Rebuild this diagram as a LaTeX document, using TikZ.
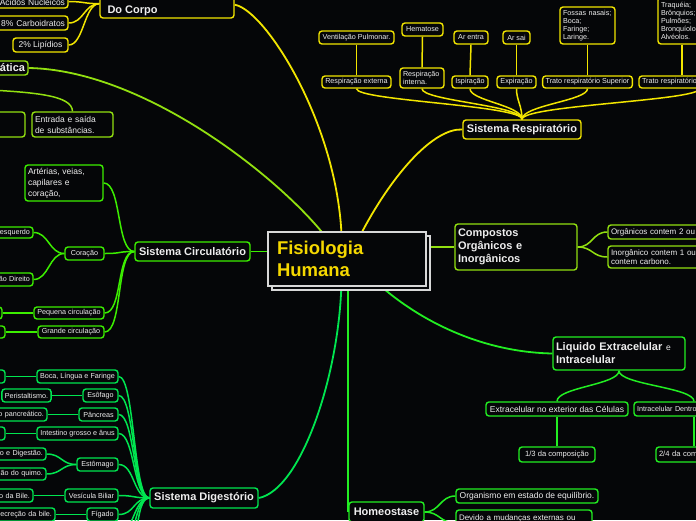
\documentclass[tikz,border=0pt]{standalone}
\usepackage{fontspec}
\setmainfont{Liberation Sans}
\usetikzlibrary{shadows,calc}
\definecolor{bg}{HTML}{050608}
\definecolor{cY}{HTML}{F2E500}
\definecolor{cL}{HTML}{92E010}
\definecolor{cC}{HTML}{3CEE00}
\definecolor{cG}{HTML}{22EE22}
\definecolor{cD}{HTML}{00E650}
\definecolor{cW}{HTML}{EEEEEE}
\definecolor{cT}{HTML}{F5D800}
\definecolor{cF}{HTML}{D8D8D8}
\pgfdeclarelayer{back}
\pgfsetlayers{back,main}
\newcommand\bx[7]{%
 \pgfmathsetmacro\bxw{(#4)-(#2)}\pgfmathsetmacro\bxh{(#5)-(#3)}%
 \pgfmathsetmacro\bxx{((#2)+(#4))/2}\pgfmathsetmacro\bxy{((#3)+(#5))/2}%
 \node[#1, minimum width=\bxw pt, minimum height=\bxh pt] (#6) at (\bxx,\bxy) {#7};}
\newcommand\bxt[8]{%
 \pgfmathsetmacro\bxw{(#4)-(#2)-6}\pgfmathsetmacro\bxh{(#5)-(#3)}%
 \pgfmathsetmacro\bxx{((#2)+(#4))/2}\pgfmathsetmacro\bxy{((#3)+(#5))/2}%
 \node[#1, text width=\bxw pt, minimum height=\bxh pt, align=#6] (#7) at (\bxx,\bxy) {#8};}
\begin{document}
\begin{tikzpicture}[x=1pt,y=-1pt,
 box/.style={draw, fill=bg, rounded corners=3pt, line width=1.4pt, text=cW, inner xsep=3pt, inner ysep=0.5pt},
 yb/.style={box, draw=cY}, lb/.style={box, draw=cL}, cb/.style={box, draw=cC},
 gb/.style={box, draw=cG}, db/.style={box, draw=cD},
 sm/.style={font=\fontsize{7.2}{8.5}\selectfont},
 md/.style={font=\fontsize{8.5}{11}\selectfont},
 bf/.style={font=\fontsize{11}{13}\selectfont\bfseries},
 fhb/.style={draw=cF, fill=bg, line width=1.3pt, text=cT, font=\fontsize{18.5}{22}\selectfont\bfseries,
   copy shadow={shadow xshift=4pt, shadow yshift=-4pt}},
 cy/.style={draw=cY, line width=1.5pt}, cyT/.style={draw=cY, line width=1.8pt},
 cl/.style={draw=cL, line width=1.5pt}, clT/.style={draw=cL, line width=1.8pt},
 cc/.style={draw=cC, line width=1.5pt}, ccT/.style={draw=cC, line width=1.8pt},
 cg/.style={draw=cG, line width=1.5pt}, cgT/.style={draw=cG, line width=1.8pt},
 cd/.style={draw=cD, line width=1.5pt}, cdT/.style={draw=cD, line width=1.8pt}]
\useasboundingbox (0,0) rectangle (696,520);
% central
\node[fhb, text width=140pt, inner xsep=9pt, inner ysep=0pt, minimum height=54pt, align=left] (fh) at (347,259) {Fisiologia\\Humana};
% yellow: composition
\bx{yb}{100}{-20}{234}{18}{docorpo}{}
\node[bf, text=cW, anchor=base west] (docorpot) at (104,13) {Do Corpo};
\bxt{yb,md}{-40}{-5}{68}{8}{right}{acidos}{Ácidos Nucleicos}
\bxt{yb,md}{-40}{16}{68}{30}{right}{carbo}{8\% Carboidratos}
\bx{yb,md}{13}{38}{68}{52}{lipid}{2\% Lipídios}
% respiratory
\bx{yb,bf}{463}{120}{581}{139}{sresp}{Sistema Respiratório}
\bx{yb,sm}{322}{76}{391}{88}{rext}{Respiração externa}
\bxt{yb,sm}{400}{68}{444}{88}{left}{rint}{Respiração\\interna.}
\bx{yb,sm}{452}{76}{488}{88}{isp}{Ispiração}
\bx{yb,sm}{497}{76}{536}{88}{expi}{Expiração}
\bx{yb,sm}{543}{76}{632}{88}{tsup}{Trato respiratório Superior}
\bxt{yb,sm}{639}{76}{760}{88}{left}{tinf}{Trato respiratório Inferior}
\bx{yb,sm}{319}{31}{394}{44}{vent}{Ventilação Pulmonar.}
\bx{yb,sm}{402}{23}{443}{36}{hema}{Hematose}
\bx{yb,sm}{454}{31}{488}{44}{arent}{Ar entra}
\bx{yb,sm}{503}{31}{530}{44}{arsai}{Ar sai}
\bxt{yb,font=\fontsize{7.2}{8}\selectfont}{560}{7}{615}{44}{left}{fossas}{Fossas nasais;\\Boca;\\Faringe;\\Laringe.}
\bxt{yb,font=\fontsize{7.2}{8}\selectfont}{658}{-3}{706}{44}{left}{traq}{Traquéia;\\Brônquios;\\Pulmões;\\Bronquíolos;\\Alvéolos.}
% lime
\bxt{lb,bf}{-100}{61}{28}{75}{right}{plasm}{Membrana Plasmática}
\bxt{lb,md}{32}{112}{113}{137}{left}{entrada}{Entrada e saída\\de substâncias.}
\bx{lb,md}{-60}{112}{25}{137}{plasmc}{}
\coordinate (plasmB) at (-30,89);
\bxt{lb,bf}{455}{224}{577}{270}{left}{compostos}{Compostos\\Orgânicos e\\Inorgânicos}
\bxt{lb,font=\fontsize{8}{9}\selectfont}{608}{225}{800}{239}{left}{org}{Orgânicos contem 2 ou mais carbonos.}
\bxt{lb,font=\fontsize{8}{9}\selectfont}{608}{246}{800}{268}{left}{inorg}{Inorgânico contem 1 ou não\\contem carbono.}
% circulatory
\bx{cb,bf}{135}{242}{250}{261}{scirc}{Sistema Circulatório}
\bxt{cb,md}{25}{165}{103}{201}{left}{art}{Artérias, veias,\\capilares e\\coração,}
\bx{cb,sm}{65}{247}{104}{260}{cor}{Coração}
\bx{cb,sm}{34}{307}{104}{319}{pequena}{Pequena circulação}
\bx{cb,sm}{38}{326}{104}{338}{grande}{Grande circulação}
\bxt{cb,sm}{-40}{227}{33}{238}{right}{coresq}{Coração esquerdo}
\bxt{cb,sm}{-40}{273}{33}{286}{right}{cordir}{Coração Direito}
\bx{cb,sm}{-40}{307}{2}{319}{peqc}{}
\bx{cb,sm}{-40}{326}{5}{338}{grac}{}
% liquids & homeostasis
\bxt{gb,bf}{553}{337}{685}{370}{left}{liq}{Liquido Extracelular {\fontsize{8.5}{13}\selectfont\mdseries e}\\Intracelular}
\bx{gb,md}{486}{402}{628}{416}{extra}{Extracelular no exterior das Células}
\bxt{gb,sm}{634}{402}{754}{416}{left}{intra}{Intracelular Dentro das Células}
\bx{gb,font=\fontsize{7.6}{9}\selectfont}{519}{447}{595}{462}{terco}{1/3 da composição}
\bxt{gb,font=\fontsize{7.6}{9}\selectfont}{656}{447}{732}{462}{left}{dois}{2/4 da composição}
\bx{gb,bf}{349}{502}{424}{522}{homeo}{Homeostase}
\bx{gb,md}{456}{489}{598}{503}{org2}{Organismo em estado de equilíbrio.}
\bxt{gb,font=\fontsize{8}{10}\selectfont}{456}{510}{592}{536}{left}{devido}{Devido a mudanças externas ou\\internas.}
% digestive
\bx{db,bf}{150}{488}{258}{508}{sdig}{Sistema Digestório}
\bx{db,sm}{37}{370}{118}{383}{boca}{Boca, Língua e Faringe}
\bx{db,sm}{-40}{370}{5}{383}{bocac}{}
\bx{db,sm}{83}{389}{118}{402}{esof}{Esôfago}
\bx{db,sm}{2}{389}{51}{402}{peri}{Peristaltismo.}
\bx{db,sm}{79}{408}{118}{421}{panc}{Pâncreas}
\bxt{db,sm}{-40}{408}{47}{421}{right}{suco}{Suco pancreático.}
\bx{db,sm}{37}{427}{118}{440}{intest}{Intestino grosso e ânus}
\bx{db,sm}{-40}{427}{5}{440}{intc}{}
\bx{db,sm}{77}{458}{118}{471}{estom}{Estômago}
\bxt{db,sm}{-60}{448}{46}{460}{right}{armz}{Armazenamento e Digestão.}
\bxt{db,sm}{-40}{468}{46}{480}{right}{quimo}{Formação do quimo.}
\bx{db,sm}{65}{489}{118}{502}{vesic}{Vesícula Biliar}
\bxt{db,sm}{-70}{489}{33}{502}{right}{bilen}{Armazenamento da Bile.}
\bx{db,sm}{87}{508}{118}{521}{figado}{Fígado}
\bxt{db,sm}{-40}{508}{55}{521}{right}{secr}{Secreção da bile.}
\coordinate (dg1) at (118,534);
\coordinate (dg2) at (120,548);
\coordinate (dg3) at (124,562);
\begin{pgfonlayer}{back}
\fill[bg] (0,0) rectangle (696,520);
% yellow
\coordinate (dcL) at ($(docorpo.south west)+(0,-15)$);
\foreach \c in {acidos,carbo,lipid} \draw[cy] (dcL) .. controls +(-15,0) and +(15,0) .. (\c.east);
\draw[cyT] ($(docorpo.south east)+(0,-14)$) .. controls (265,10) and (335,120) .. ($(fh.north west)+(74,0)$);
\draw[cyT] (sresp.west) .. controls (435,128) and (395,170) .. ($(fh.north west)+(95,0)$);
\foreach \c in {rext,rint,isp,expi,tsup,tinf} \draw[cy] (sresp.north) .. controls +(0,-14) and +(0,12) .. (\c.south);
\draw[cy] (vent.south) -- (rext.north);
\draw[cy] (hema.south) -- (rint.north);
\draw[cy] (arent.south) -- (isp.north);
\draw[cy] (arsai.south) -- (expi.north);
\draw[cy] (fossas.south) -- (tsup.north);
\draw[cy] (traq.south) -- (traq.south |- tinf.north);
% lime
\draw[clT] (plasm.east) .. controls (140,70) and (270,170) .. ($(fh.north west)+(54,0)$);
\draw[cl] (plasmB) .. controls (35,92) and (72,95) .. (entrada.north);
\draw[clT] (fh.east |- compostos.west) -- (compostos.west);
\foreach \c in {org,inorg} \draw[cl] (compostos.east) .. controls +(15,0) and +(-15,0) .. (\c.west);
% circulatory
\draw[ccT] (scirc.east) -- (fh.west |- scirc.east);
\foreach \c in {art,cor,pequena,grande} \draw[cc] (\c.east) .. controls +(18,0) and +(-18,0) .. (scirc.west);
\foreach \c in {coresq,cordir} \draw[cc] (cor.west) .. controls +(-15,0) and +(15,0) .. (\c.east);
\draw[cc] (peqc.east) -- (pequena.west);
\draw[cc] (grac.east) -- (grande.west);
% green
\draw[cgT] ($(fh.south west)+(114,0)$) .. controls (420,320) and (480,352) .. (liq.west);
\foreach \c in {extra,intra} \draw[cg] (liq.south) .. controls +(0,14) and +(0,-14) .. (\c.north);
\draw[cg] (extra.south) -- (terco.north);
\draw[cg] (intra.south) -- (dois.north);
\draw[cgT] (homeo.west |- fh.south) -- (homeo.west);
\foreach \c in {org2,devido} \draw[cg] (homeo.east) .. controls +(15,0) and +(-15,0) .. (\c.west);
% digestive
\draw[cdT] ($(fh.south west)+(74,0)$) .. controls (338,380) and (300,490) .. (sdig.east);
\foreach \c in {boca,esof,panc,intest,estom,vesic,figado} \draw[cd] (\c.east) .. controls +(16,0) and +(-16,0) .. (sdig.west);
\foreach \c in {dg1,dg2,dg3} \draw[cd] (\c) .. controls +(16,0) and +(-16,0) .. (sdig.west);
\draw[cd] (bocac.east) -- (boca.west);
\draw[cd] (peri.east) -- (esof.west);
\draw[cd] (suco.east) -- (panc.west);
\draw[cd] (intc.east) -- (intest.west);
\foreach \c in {armz,quimo} \draw[cd] (estom.west) .. controls +(-15,0) and +(15,0) .. (\c.east);
\draw[cd] (bilen.east) -- (vesic.west);
\draw[cd] (secr.east) -- (figado.west);
\end{pgfonlayer}
\end{tikzpicture}
\end{document}
